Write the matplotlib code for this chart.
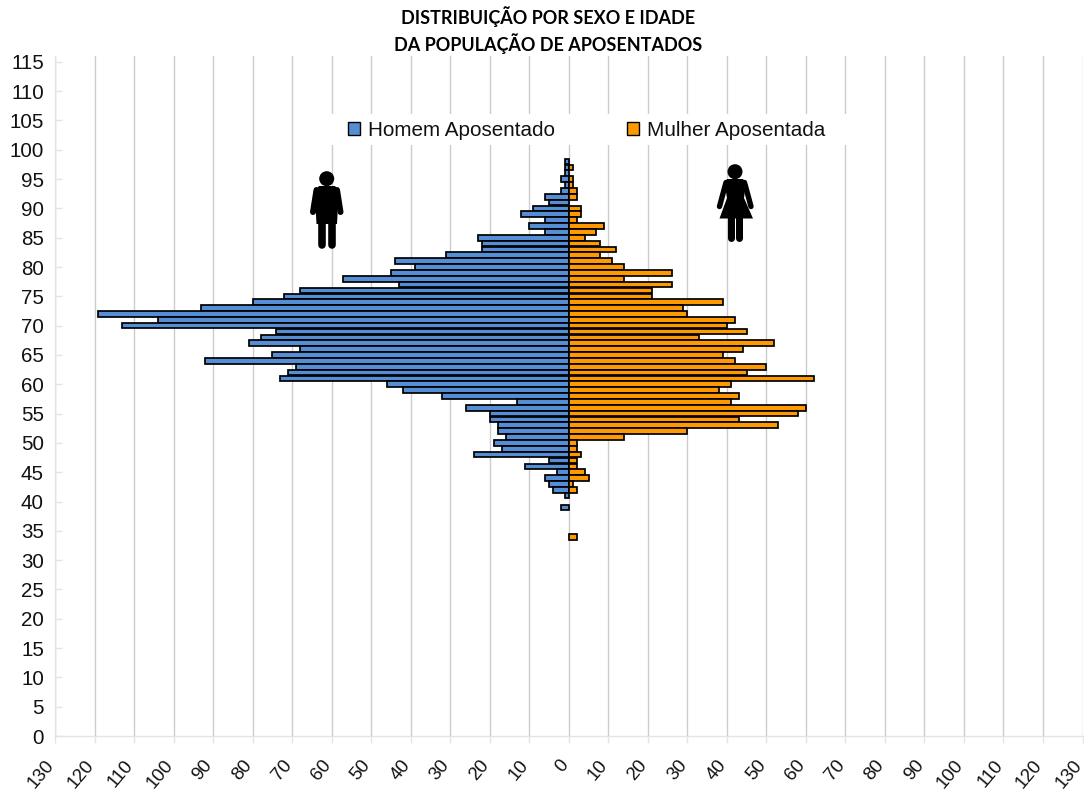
import matplotlib
matplotlib.use("Agg")
import matplotlib.pyplot as plt
from matplotlib.patches import Rectangle, Polygon, Circle
from matplotlib.lines import Line2D
from matplotlib.transforms import Affine2D, ScaledTranslation

W, H = 1084, 794
title_lines = ["DISTRIBUIÇÃO POR SEXO E IDADE", "DA POPULAÇÃO DE APOSENTADOS"]
series_names = ["Homem Aposentado", "Mulher Aposentada"]
ages = list(range(98, 33, -1))
male = [1,1,1,2,1,2,6,5,9,12,6,10,6,23,22,22,31,44,39,45,57,43,68,72,80,93,119,104,113,
        74,78,81,68,75,92,69,71,73,46,42,32,13,26,20,20,18,18,16,19,17,24,5,11,3,6,5,4,1,
        0,2,0,0,0,0,0]
female = [0,1,0,1,1,2,2,0,3,3,2,9,7,4,8,12,8,11,14,26,14,26,21,21,39,29,30,42,40,45,33,
          52,44,39,42,50,45,62,41,38,43,41,60,58,43,53,30,14,2,2,3,2,2,4,5,1,2,
          0,0,0,0,0,0,0,2]
x_ticks = list(range(-130, 131, 10))
y_ticks = list(range(0, 116, 5))
BLUE, ORANGE = "#558ed5", "#ff9900"

fig = plt.figure(figsize=(W/100, H/100), dpi=100)
plt.rcParams['font.family'] = ['Liberation Sans', 'DejaVu Sans']
ax = fig.add_axes([55/W, 1-736/H, (1082.5-55)/W, (736-56)/H])
ax.set_xlim(-130, 130)
ax.set_ylim(0, 116)

for values, color, sign in ((male, BLUE, -1), (female, ORANGE, 1)):
    ys = [a for a, v in zip(ages, values) if v]
    xs = [sign*v for v in values if v]
    ax.barh(ys, xs, height=0.96, color=color, edgecolor="black", linewidth=1.25, zorder=3)

ax.set_xticks(x_ticks)
ax.set_xticklabels([str(abs(t)) for t in x_ticks], rotation=50, ha='right', va='top',
                   rotation_mode='anchor', fontsize=13.4, color="#111111",
                   family=['Liberation Sans'])
ax.set_yticks(y_ticks)
ax.set_yticklabels([str(t) for t in y_ticks], fontsize=14.8, color="#111111",
                   family=['Liberation Sans'])
ax.tick_params(axis='x', direction='out', length=5, width=1, color="#e4e4e4", pad=10)
ax.tick_params(axis='y', direction='in', length=5, width=1, color="#e4e4e4", pad=8)
shift = ScaledTranslation(-10/100, 0, fig.dpi_scale_trans)
for lab in ax.get_xticklabels():
    lab.set_transform(lab.get_transform() + shift)
ax.grid(axis='x', color="#cccccc", linewidth=1.0, zorder=1)
ax.set_axisbelow(True)
for s in ("top", "right"):
    ax.spines[s].set_visible(False)
for s in ("left", "bottom"):
    ax.spines[s].set_color("#e4e4e4")
    ax.spines[s].set_linewidth(1.0)

px = Affine2D().scale(1/W, -1/H).translate(0, 1) + fig.transFigure
fig.add_artist(Rectangle((330, 114), 520, 31, transform=px, facecolor="white", edgecolor="none", zorder=2))

handles = [Rectangle((0, 0), 1, 1, facecolor=BLUE, edgecolor="black", linewidth=1.0),
           Rectangle((0, 0), 1, 1, facecolor=ORANGE, edgecolor="black", linewidth=1.0)]
leg = fig.legend(handles, series_names, ncol=2, frameon=False, fontsize=14.9,
                 loc='center', bbox_to_anchor=(586.5/W, 1-130/H), handlelength=0.58,
                 handleheight=0.6, handletextpad=0.36, columnspacing=3.5,
                 labelcolor="#111111", borderpad=0, borderaxespad=0)
leg.set_zorder(4)

for i, line in enumerate(title_lines):
    fig.text(548/W, 1-(17+26.5*i)/H, line, ha='center', va='center', fontsize=13,
             fontweight='bold', family=['Lato'], color="black")

def stroke(points, w):
    fig.add_artist(Line2D([p[0] for p in points], [p[1] for p in points], transform=px,
                          color="black", linewidth=w*0.72, solid_capstyle='round',
                          solid_joinstyle='round', zorder=5))

def poly(points):
    fig.add_artist(Polygon(points, closed=True, transform=px, facecolor="black",
                           edgecolor="none", zorder=5))

def head(x, y, r):
    fig.add_artist(Circle((x, y), r, transform=px, facecolor="black", edgecolor="none", zorder=5))

# man pictogram
head(326.7, 178.7, 7.5)
poly([(319, 186), (335, 186), (338, 190), (337.5, 215), (337, 224), (316.5, 224), (316, 215), (315.5, 190)])
stroke([(316.5, 190), (313, 212)], 6)
stroke([(337, 190), (340.5, 212)], 6)
stroke([(321.5, 215), (321.5, 245)], 7.6)
stroke([(332, 215), (332, 245)], 7.6)

# woman pictogram
head(735, 171.7, 7.5)
poly([(727, 179), (743, 179), (746, 183), (744, 198), (753, 218.5), (719.5, 218.5), (727, 198), (724.5, 183)])
stroke([(726, 182.5), (719.5, 206.5)], 5.4)
stroke([(744.5, 182.5), (751, 206.5)], 5.4)
stroke([(730.5, 216), (730.5, 238)], 7)
stroke([(739, 216), (739, 238)], 7)

fig.savefig("out.png", dpi=100, facecolor="white")
